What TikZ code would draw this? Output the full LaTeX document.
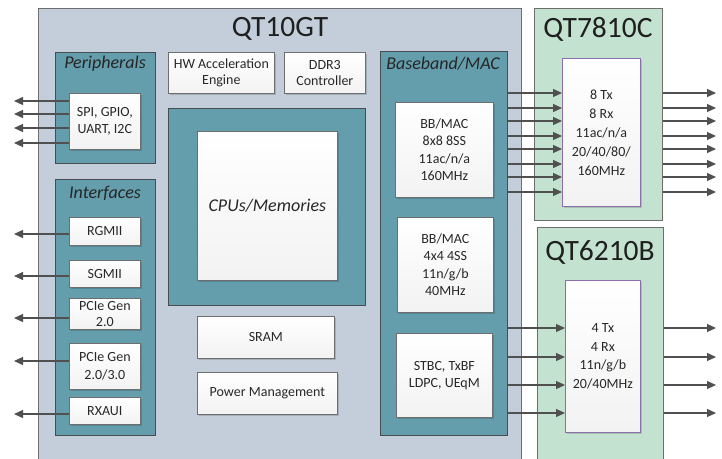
\documentclass[tikz,border=0pt]{standalone}
\usepackage{fontspec}
\setmainfont{Carlito}
\usetikzlibrary{arrows.meta,shadows}
\definecolor{chip}{RGB}{196,206,218}
\definecolor{tealc}{RGB}{100,157,172}
\definecolor{radio}{RGB}{196,226,208}
\definecolor{bord}{RGB}{110,110,110}
\definecolor{tbord}{RGB}{70,78,84}
\definecolor{purp}{RGB}{140,110,170}
\definecolor{txt}{RGB}{40,40,40}
\definecolor{arrc}{RGB}{80,80,80}
\begin{document}
\begin{tikzpicture}[x=1pt,y=-1pt,
  chipbox/.style={draw=bord, fill=chip, line width=0.8pt, anchor=north west, inner sep=0pt},
  tealbox/.style={draw=tbord, fill=tealc, line width=0.9pt, anchor=north west, inner sep=0pt},
  radiobox/.style={draw=bord, fill=radio, line width=0.8pt, anchor=north west, inner sep=0pt},
  wbox/.style={draw=bord, line width=0.7pt, top color=white, bottom color=gray!10,
    drop shadow={shadow xshift=2pt, shadow yshift=-2pt, fill=black, opacity=0.15},
    text=txt, align=center, font=\fontsize{14}{17.5}\selectfont, inner sep=0pt, anchor=north west},
  pbox/.style={wbox, draw=purp},
  chiptitle/.style={font=\fontsize{29.5}{32}\selectfont, text=black!88},
  sectitle/.style={font=\itshape\fontsize{18}{20}\selectfont, text=black!85},
  arw/.style={draw=arrc, line width=1.2pt, -{Triangle[length=9pt,width=8pt]}}
]
\useasboundingbox (0,0) rectangle (722,458);
\clip (0,0) rectangle (722,458);

% main chip
\node[chipbox, minimum width=483pt, minimum height=462pt] (qt10) at (38,8) {};
\node[chiptitle] (t10) at (280,29) {QT10GT};

% peripherals
\node[tealbox, minimum width=100pt, minimum height=111pt] (periph) at (55,52) {};
\node[sectitle] (tperiph) at (105,64) {Peripherals};
\node[wbox, minimum width=71pt, minimum height=56pt] (spi) at (69,93) {SPI, GPIO,\\UART, I2C};

% interfaces
\node[tealbox, minimum width=100pt, minimum height=256pt] (intf) at (55,179) {};
\node[sectitle] (tintf) at (105,193) {Interfaces};
\node[wbox, minimum width=71pt, minimum height=28pt] (rgmii) at (69,217) {RGMII};
\node[wbox, minimum width=71pt, minimum height=27pt] (sgmii) at (69,260) {SGMII};
\node[wbox, minimum width=71pt, minimum height=31pt, font=\fontsize{14}{16.5}\selectfont] (pcie2) at (69,298) {PCIe Gen\\2.0};
\node[wbox, minimum width=71pt, minimum height=46pt] (pcie3) at (69,343) {PCIe Gen\\2.0/3.0};
\node[wbox, minimum width=71pt, minimum height=27pt] (rxaui) at (69,397) {RXAUI};

% center column
\node[wbox, minimum width=106pt, minimum height=41pt, font=\fontsize{14}{16}\selectfont] (hw) at (168,52) {HW Acceleration\\Engine};
\node[wbox, minimum width=81pt, minimum height=41pt, font=\fontsize{14}{16}\selectfont] (ddr) at (284,52) {DDR3\\Controller};
\node[tealbox, minimum width=197pt, minimum height=197pt] (cpuo) at (168,108) {};
\node[wbox, minimum width=140pt, minimum height=149pt, font=\itshape\fontsize{18}{21}\selectfont] (cpui) at (197,131) {CPUs/Memories};
\node[wbox, minimum width=137pt, minimum height=42pt] (sram) at (197,316) {SRAM};
\node[wbox, minimum width=140pt, minimum height=42pt] (pm) at (197,372) {Power Management};

% baseband
\node[tealbox, minimum width=127pt, minimum height=384pt] (bbo) at (380,51) {};
\node[sectitle] (tbb) at (443,64) {Baseband/MAC};
\node[wbox, minimum width=98pt, minimum height=95pt] (bb8) at (395,102) {BB/MAC\\8x8 8SS\\11ac/n/a\\160MHz};
\node[wbox, minimum width=96pt, minimum height=95pt] (bb4) at (397,217) {BB/MAC\\4x4 4SS\\11n/g/b\\40MHz};
\node[wbox, minimum width=96pt, minimum height=84pt] (stbc) at (396,333) {STBC, TxBF\\LDPC, UEqM};

% radios
\node[radiobox, minimum width=128pt, minimum height=212pt] (r78) at (534,8) {};
\node[chiptitle] (t78) at (598,29) {QT7810C};
\node[pbox, minimum width=78pt, minimum height=148pt, font=\fontsize{14}{19}\selectfont] (r78i) at (562,58) {8 Tx\\8 Rx\\11ac/n/a\\20/40/80/\\160MHz};

\node[radiobox, minimum width=126pt, minimum height=250pt] (r62) at (537,227) {};
\node[chiptitle] (t62) at (600,252) {QT6210B};
\node[pbox, minimum width=75pt, minimum height=152pt, font=\fontsize{14}{18.5}\selectfont] (r62i) at (565,280) {4 Tx\\4 Rx\\11n/g/b\\20/40MHz};

% free ends
\coordinate (lend) at (14,0);
\coordinate (rend) at (716,0);

% arrows
\foreach \yy in {101,114,128,143} \draw[arw] (spi.west |- 0,\yy) -- (lend |- 0,\yy);
\draw[arw] (rgmii.west |- 0,234) -- (lend |- 0,234);
\draw[arw] (sgmii.west |- 0,276) -- (lend |- 0,276);
\draw[arw] (pcie2.west |- 0,318) -- (lend |- 0,318);
\draw[arw] (pcie3.west |- 0,361) -- (lend |- 0,361);
\draw[arw] (rxaui.west |- 0,414) -- (lend |- 0,414);

\foreach \yy in {93,108,121,136,149,164,177,192} {
  \draw[arw] (bbo.east |- 0,\yy) -- (r78i.west |- 0,\yy);
  \draw[arw] (r78.east |- 0,\yy) -- (rend |- 0,\yy);
}
\foreach \yy in {328,357,385,413} {
  \draw[arw] (bbo.east |- 0,\yy) -- (r62i.west |- 0,\yy);
  \draw[arw] (r62.east |- 0,\yy) -- (rend |- 0,\yy);
}
\end{tikzpicture}
\end{document}
